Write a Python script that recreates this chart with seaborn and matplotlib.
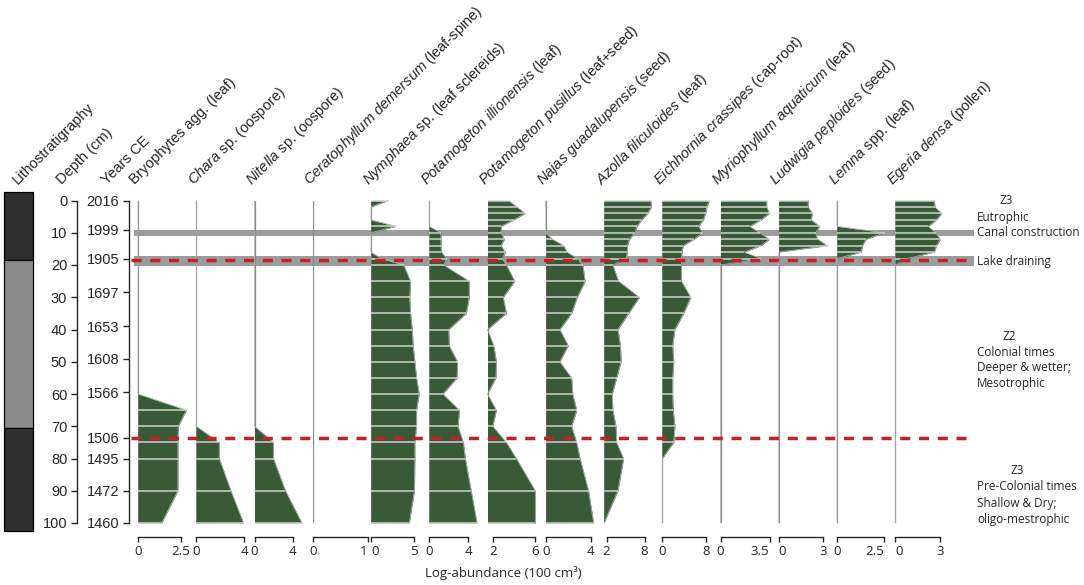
import numpy as np
import matplotlib
matplotlib.use("Agg")
import matplotlib.pyplot as plt
import seaborn as sns

# --- data ---
depths = [0, 2, 4, 6, 8, 10, 12, 14, 16, 18, 20, 25, 30, 35, 40, 45, 50, 55, 60, 65, 70, 75, 80, 90, 100]

year_depths = [0, 9, 18, 28.5, 39, 49, 59.5, 73.5, 80, 90, 100]
years = [2016, 1999, 1905, 1697, 1653, 1608, 1566, 1506, 1495, 1472, 1460]

litho_top = [0, 18.5, 70.5]
litho_bottom = [18.5, 70.5, 100]
litho_colors = ["#2f2f2f", "#8c8c8c", "#2f2f2f"]

taxa = [
    "Bryophytes agg. (leaf)",
    r"$\mathit{Chara}$ sp. (oospore)",
    r"$\mathit{Nitella}$ sp. (oospore)",
    r"$\mathit{Ceratophyllum\ demersum}$ (leaf-spine)",
    r"$\mathit{Nymphaea}$ sp. (leaf sclereids)",
    r"$\mathit{Potamogeton\ illionensis}$ (leaf)",
    r"$\mathit{Potamogeton\ pusillus}$ (leaf+seed)",
    r"$\mathit{Najas\ guadalupensis}$ (seed)",
    r"$\mathit{Azolla\ filiculoides}$ (leaf)",
    r"$\mathit{Eichhornia\ crassipes}$ (cap-root)",
    r"$\mathit{Myriophyllum\ aquaticum}$ (leaf)",
    r"$\mathit{Ludwigia\ peploides}$ (seed)",
    r"$\mathit{Lemna}$ spp. (leaf)",
    r"$\mathit{Egeria\ densa}$ (pollen)",
]

bryophytes = [0, 0, 0, 0, 0, 0, 0, 0, 0, 0, 0, 0, 0, 0, 0, 0, 0, 0, 0, 2.83, 2.35, 2.33, 2.33, 2.33, 1.38]
chara = [0, 0, 0, 0, 0, 0, 0, 0, 0, 0, 0, 0, 0, 0, 0, 0, 0, 0, 0, 0, 0, 1.92, 1.92, 2.89, 3.94]
nitella = [0, 0, 0, 0, 0, 0, 0, 0, 0, 0, 0, 0, 0, 0, 0, 0, 0, 0, 0, 0, 0, 2.0, 2.0, 3.26, 5.0]
ceratophyllum = [0, 0, 0, 0, 0, 0, 0, 0, 0, 0, 0, 0, 0, 0, 0, 0, 0, 0, 0, 0, 0, 0, 0, 0, 0]
nymphaea = [2.0, 0, 0, 0, 2.9, 0, 0, 0, 0, 1.2, 3.8, 4.6, 4.5, 4.6, 4.8, 4.9, 5.1, 5.3, 5.6, 5.3, 5.3, 5.1, 5.1, 5.05, 4.45]
pot_illionensis = [0, 0, 0, 0, 0, 1.2, 1.2, 1.2, 1.25, 1.8, 1.5, 4.1, 4.1, 3.8, 2.0, 2.05, 2.9, 2.85, 1.4, 3.1, 2.95, 3.5, 3.7, 4.3, 4.9]
pot_pusillus = [3.5, 4.3, 5.1, 4.0, 2.8, 2.8, 3.1, 2.8, 3.2, 2.9, 3.3, 4.1, 3.0, 3.3, 1.5, 2.1, 2.35, 2.3, 1.5, 2.35, 2.0, 3.3, 4.25, 6.05, 6.05]
najas = [0, 0, 0, 0, 0, 0, 0.6, 1.6, 1.9, 2.8, 3.3, 3.5, 2.8, 2.3, 1.25, 2.0, 1.25, 2.3, 2.4, 2.75, 2.3, 2.75, 3.05, 3.8, 4.25]
azolla = [9.0, 9.1, 8.5, 7.6, 6.8, 6.5, 5.6, 5.3, 5.3, 5.1, 3.0, 3.9, 7.2, 5.5, 3.8, 4.2, 4.3, 3.6, 2.9, 3.0, 3.5, 3.6, 4.7, 3.8, 1.6]
eichhornia = [8.6, 8.1, 7.9, 7.5, 6.6, 7.4, 5.8, 3.8, 3.6, 3.5, 3.5, 3.5, 5.2, 3.9, 2.3, 1.9, 2.1, 1.9, 1.9, 2.0, 2.3, 2.1, 0, 0, 0]
myriophyllum = [3.3, 3.3, 3.5, 2.9, 2.1, 2.8, 3.5, 2.9, 1.7, 2.9, 0, 0, 0, 0, 0, 0, 0, 0, 0, 0, 0, 0, 0, 0, 0]
ludwigia = [2.0, 2.0, 2.3, 2.2, 2.8, 2.5, 2.65, 3.3, 0, 0, 0, 0, 0, 0, 0, 0, 0, 0, 0, 0, 0, 0, 0, 0, 0]
lemna = [0, 0, 0, 0, 0, 2.55, 1.55, 1.35, 1.3, 0, 0, 0, 0, 0, 0, 0, 0, 0, 0, 0, 0, 0, 0, 0, 0]
egeria = [2.6, 2.65, 3.1, 2.75, 2.2, 2.7, 3.0, 2.75, 2.6, 0.8, 0, 0, 0, 0, 0, 0, 0, 0, 0, 0, 0, 0, 0, 0, 0]

series = [bryophytes, chara, nitella, ceratophyllum, nymphaea, pot_illionensis, pot_pusillus,
          najas, azolla, eichhornia, myriophyllum, ludwigia, lemna, egeria]

# axis minimum / maximum of each panel and the two bracket ticks
x_min = [0, 0, 0, 0, 0, 0, 1.5, 0, 1.6, 0, 0, 0, 0, 0]
x_max = [3.4, 4.85, 6.13, 1.06, 6.77, 5.97, 7.04, 5.17, 10.8, 10.6, 4.16, 3.96, 3.1, 3.88]
x_ticks = [(0, 2.5), (0, 4), (0, 4), (0, 1), (0, 5), (0, 4), (2, 6), (0, 4), (2, 8), (0, 8),
           (0, 3.5), (0, 3), (0, 2.5), (0, 3)]
x_ticklabels = [("0", "2.5"), ("0", "4"), ("0", "4"), ("0", "1"), ("0", "5"), ("0", "4"), ("2", "6"),
                ("0", "4"), ("2", "8"), ("0", "8"), ("0", "3.5"), ("0", "3"), ("0", "2.5"), ("0", "3")]

events_depth = [18.3, 73.5]
bands = [(9.0, 11.1), (17.1, 20.4)]

# --- style ---
sns.set_style("white")
plt.rcParams["font.family"] = ["Liberation Sans", "DejaVu Sans"]
plt.rcParams["mathtext.fontset"] = "custom"
plt.rcParams["mathtext.rm"] = "Liberation Sans"
plt.rcParams["mathtext.it"] = "Liberation Sans:italic"

GREEN = "#385a36"
W, H = 1084, 585
Y_TOP, Y_BOT = 200.5, 523

# tick labels pushed aside where neighbouring brackets touch
tick_ha = {3: ("center", "right"), 4: ("left", "center"), 10: ("center", "right"),
           11: ("left", "center"), 12: ("center", "right"), 13: ("left", "center")}

fig = plt.figure(figsize=(W / 100, H / 100), dpi=100)
fig.patch.set_facecolor("white")


def px_axes(x0, x1, y0=Y_TOP, y1=Y_BOT, z=1):
    ax = fig.add_axes([x0 / W, 1 - y1 / H, (x1 - x0) / W, (y1 - y0) / H], zorder=z)
    ax.patch.set_alpha(0)
    ax.set_ylim(100, 0)
    return ax


# grey bands behind everything
ax_back = px_axes(0, W, z=0)
ax_back.set_xlim(0, W)
for d0, d1 in bands:
    ax_back.fill_between([134, 974], d0, d1, color="#9c9c9c", lw=0)
ax_back.axis("off")

# lithology column
ax_lith = px_axes(4, 33)
ax_lith.set_xlim(0, 1)
for i, (t, b, c) in enumerate(zip(litho_top, litho_bottom, litho_colors)):
    t = t - 2.5 if i == 0 else t
    b = b + 2.5 if i == len(litho_top) - 1 else b
    ax_lith.bar(0.5, b - t, bottom=t, width=1, color=c, edgecolor="black", lw=0.9, clip_on=False)
ax_lith.axis("off")

# depth axis
ax_depth = px_axes(77, 80)
ax_depth.set_yticks(range(0, 101, 10))
ax_depth.set_xticks([])
for s in ["top", "right", "bottom"]:
    ax_depth.spines[s].set_visible(False)
ax_depth.spines["left"].set_linewidth(1.0)
ax_depth.tick_params(axis="y", direction="out", length=4, width=1.0, pad=3, labelsize=10.5, left=True)

# years axis
ax_year = px_axes(129, 132)
ax_year.set_yticks(year_depths, [str(y) for y in years])
ax_year.set_xticks([])
for s in ["top", "right", "bottom"]:
    ax_year.spines[s].set_visible(False)
ax_year.spines["left"].set_linewidth(1.0)
ax_year.tick_params(axis="y", direction="out", length=4, width=1.0, pad=3, labelsize=10.5, left=True)

# taxon panels
x0 = 138.0
step = 58.25
dep = np.array(depths, dtype=float)
for i, vals in enumerate(series):
    bx = x0 + i * step
    ax = px_axes(bx, bx + step, z=2)
    v = np.array(vals, dtype=float)
    base = x_min[i]
    v = np.where(v < base, base, v)
    ax.axvline(base, color="#8a8a8a", lw=0.9, zorder=1)
    ax.fill_betweenx(dep, base, v, color=GREEN, lw=0, zorder=2, clip_on=False)
    if np.any(v > base):
        sns.lineplot(x=v, y=dep, orient="y", sort=False, estimator=None, color="#a9b4a8",
                     lw=0.6, ax=ax, zorder=3, clip_on=False)
        m = v > base
        ax.hlines(dep[m], base, v[m], color="#d2d2d2", lw=1.1, zorder=4, clip_on=False)
    ax.set_xlim(base, x_max[i])
    ax.set_ylim(100, 0)
    ax.set_xlabel("")
    ax.set_ylabel("")
    ax.set_yticks([])
    for s in ["top", "right", "left"]:
        ax.spines[s].set_visible(False)
    ax.spines["bottom"].set_position(("outward", 10))
    ax.spines["bottom"].set_bounds(*x_ticks[i])
    ax.spines["bottom"].set_linewidth(1.0)
    ax.set_xticks(list(x_ticks[i]), list(x_ticklabels[i]))
    ax.tick_params(axis="x", direction="out", length=3.6, width=1.0, pad=2, labelsize=9.5, bottom=True)
    has = tick_ha.get(i, ("center", "center"))
    for lab, ha in zip(ax.get_xticklabels(), has):
        lab.set_fontfamily("Open Sans")
        lab.set_horizontalalignment(ha)

# event lines on top
ax_front = px_axes(0, W, z=5)
ax_front.set_xlim(0, W)
ax_front.hlines(events_depth, 131, 972, color="#c4202a", lw=2.5, linestyles=(0, (2.9, 2.5)))
ax_front.axis("off")

# column headers
head_txt = ["Lithostratigraphy", "Depth (cm)", "Years CE"] + taxa
head_x = [18, 62, 107] + [x0 + i * step - 3 for i in range(len(taxa))]
for t, hx in zip(head_txt, head_x):
    fig.text(hx / W, 1 - 185 / H, t, rotation=45, rotation_mode="anchor",
             ha="left", va="baseline", fontsize=10.5)

fig.text(503 / W, 1 - 573 / H, "Log-abundance (100 cm\u00b3)", ha="center", va="center",
         fontsize=9.5, family="Open Sans")

# zone notes on the right
notes = [
    (1006, 201, "Z3", "center"), (977, 217, "Eutrophic", "left"),
    (977, 233, "Canal construction", "left"), (977, 261, "Lake draining", "left"),
    (1009, 336, "Z2", "center"), (977, 352, "Colonial times", "left"),
    (977, 368, "Deeper & wetter;", "left"), (977, 384, "Mesotrophic", "left"),
    (1017, 471, "Z3", "center"), (977, 487, "Pre-Colonial times", "left"),
    (977, 503, "Shallow & Dry;", "left"), (977, 519, "oligo-mestrophic", "left"),
]
for nx, ny, t, ha in notes:
    fig.text(nx / W, 1 - ny / H, t, ha=ha, va="center", fontsize=8.5, family="Open Sans")

fig.savefig("out.png", dpi=100, facecolor="white")
